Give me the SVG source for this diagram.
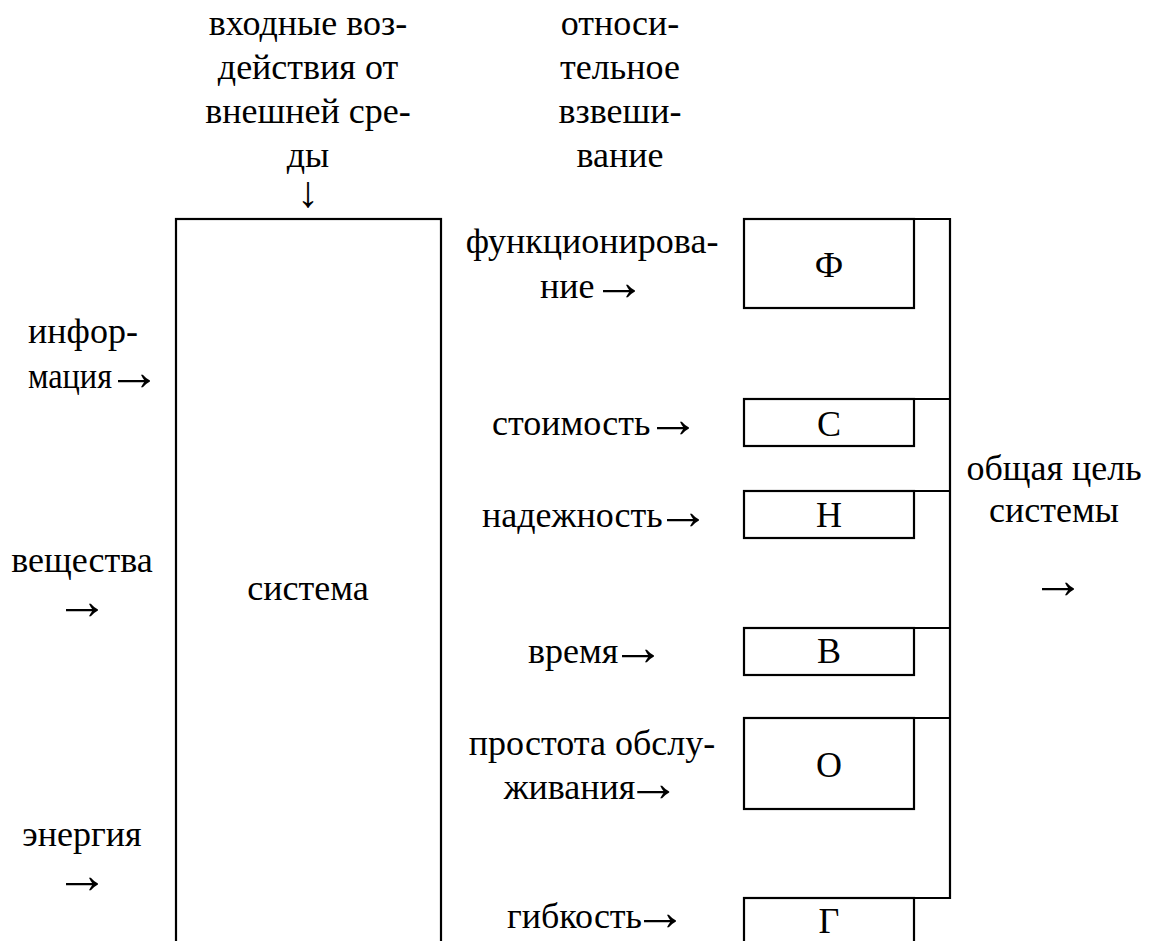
<svg xmlns="http://www.w3.org/2000/svg" width="1151" height="941" viewBox="0 0 1151 941">
<style>
text{font-family:'Liberation Serif','Times New Roman',serif;font-size:36px;fill:#000;text-anchor:middle}
.s{text-anchor:start}
.box{fill:#fff;stroke:#000;stroke-width:2.2}
.ln{stroke:#000;stroke-width:2.2;fill:none}
.ar{font-size:54px}
.dn{font-size:44px}
</style>
<rect width="1151" height="941" fill="#fff"/>
<g id="label-input">
<text x="308" y="35">входные воз-</text>
<text x="308" y="79">действия от</text>
<text x="308" y="123">внешней сре-</text>
<text x="308" y="167">ды</text>
<text x="308" y="207" class="dn">↓</text>
</g>
<g id="label-weight">
<text x="620" y="35">относи-</text>
<text x="620" y="79">тельное</text>
<text x="620" y="123">взвеши-</text>
<text x="620" y="167">вание</text>
</g>
<g id="label-info">
<text x="83" y="343">инфор-</text>
<text x="28" y="388" class="s" textLength="84" lengthAdjust="spacingAndGlyphs">мация</text>
<text x="107" y="390" class="s ar">→</text>
</g>
<g id="label-matter">
<text x="82" y="572">вещества</text>
<text x="82" y="619" class="ar">→</text>
</g>
<g id="label-energy">
<text x="82" y="846">энергия</text>
<text x="82" y="893" class="ar">→</text>
</g>
<g id="system">
<rect class="box" x="176" y="219" width="265" height="760"/>
<text x="308" y="600">система</text>
</g>
<g id="label-func">
<text x="592" y="253">функционирова-</text>
<text x="540" y="298" class="s">ние<tspan class="ar" x="592" dy="2">→</tspan></text>
</g>
<g id="label-cost"><text x="492" y="435" class="s">стоимость<tspan class="ar" x="646" dy="2">→</tspan></text></g>
<g id="label-rel"><text x="482" y="527" class="s">надежность<tspan class="ar" x="656" dy="2">→</tspan></text></g>
<g id="label-time"><text x="528" y="663" class="s">время<tspan class="ar" x="611" dy="2">→</tspan></text></g>
<g id="label-maint">
<text x="592" y="755">простота обслу-</text>
<text x="592" y="799">живания<tspan class="ar" dx="-9" dy="2">→</tspan></text>
</g>
<g id="label-flex"><text x="597" y="928">гибкость<tspan class="ar" dx="-9" dy="2">→</tspan></text></g>
<g id="box-F"><rect class="box" x="744" y="219" width="170" height="89"/><text x="829" y="277">Ф</text></g>
<g id="box-S"><rect class="box" x="744" y="399" width="170" height="47"/><text x="829" y="436">С</text></g>
<g id="box-N"><rect class="box" x="744" y="491" width="170" height="47"/><text x="829" y="527">Н</text></g>
<g id="box-V"><rect class="box" x="744" y="628" width="170" height="47"/><text x="829" y="663">В</text></g>
<g id="box-O"><rect class="box" x="744" y="718" width="170" height="91"/><text x="829" y="777">О</text></g>
<g id="box-G"><rect class="box" x="744" y="898" width="170" height="80"/><text x="829" y="933">Г</text></g>
<g id="label-goal">
<text x="1054" y="480">общая цель</text>
<text x="1054" y="522">системы</text>
<text x="1058" y="598" class="ar">→</text>
</g>
<g id="connectors">
<line class="ln" x1="950" y1="218" x2="950" y2="899"/>
<line class="ln" x1="913" y1="219" x2="951" y2="219"/>
<line class="ln" x1="913" y1="399" x2="951" y2="399"/>
<line class="ln" x1="913" y1="491" x2="951" y2="491"/>
<line class="ln" x1="913" y1="628" x2="951" y2="628"/>
<line class="ln" x1="913" y1="718" x2="951" y2="718"/>
<line class="ln" x1="913" y1="898" x2="951" y2="898"/>
</g>
</svg>
